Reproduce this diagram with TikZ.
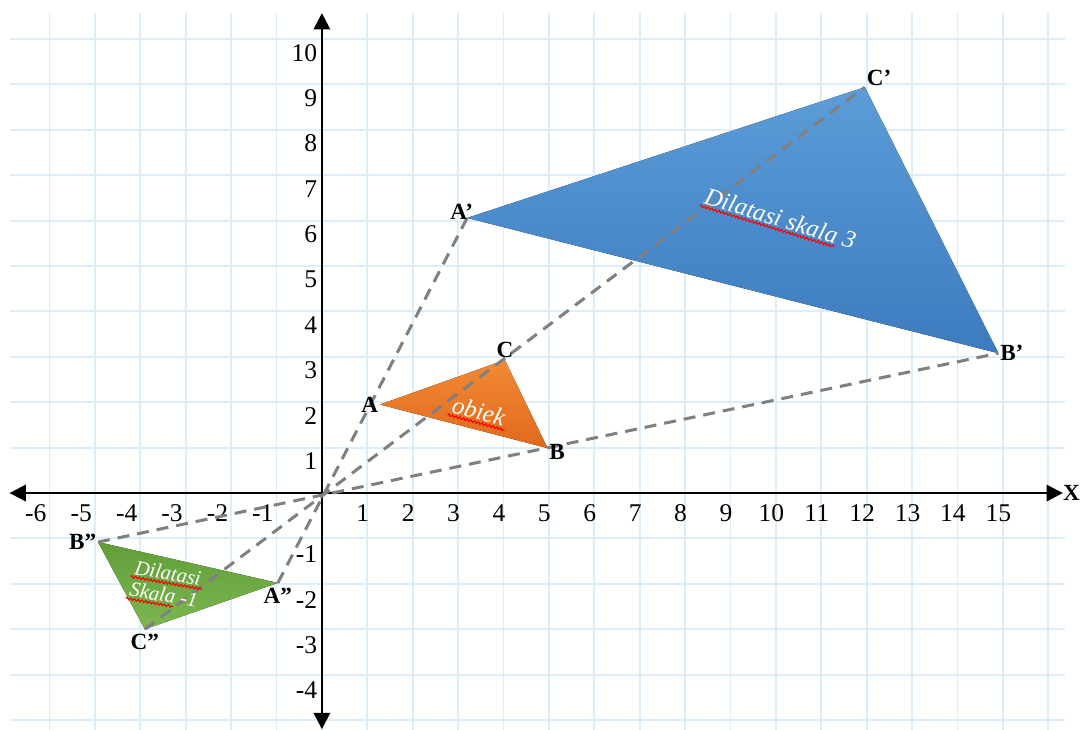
\documentclass[tikz,border=0pt]{standalone}
\usepackage{fontspec}
\setmainfont{Liberation Serif}
\usetikzlibrary{arrows.meta, positioning, calc, decorations.pathmorphing}

\definecolor{gridblue}{HTML}{DDEEFB}
\definecolor{raygray}{HTML}{808080}
\definecolor{bluetop}{HTML}{5C9CD8}
\definecolor{bluebot}{HTML}{3C7BBE}
\definecolor{orangetop}{HTML}{F28A35}
\definecolor{orangebot}{HTML}{E0691C}
\definecolor{greentop}{HTML}{609E38}
\definecolor{greenbot}{HTML}{7DB752}

\begin{document}
\begin{tikzpicture}[
  x=1cm, y=1cm,
  gridline/.style = {draw=gridblue, line width=1.2pt},
  axis/.style = {line width=1.6pt, {Triangle[length=3.6mm,width=3.6mm]}-{Triangle[length=3.6mm,width=3.6mm]}},
  tick/.style = {font=\fontsize{16}{19}\selectfont, inner sep=0pt},
  vlabel/.style = {font=\fontsize{14.5}{17}\selectfont\bfseries, inner sep=1pt},
  ray/.style = {draw=raygray, line width=1.9pt, dash pattern=on 7.5pt off 5pt},
  inner text/.style = {text=white, font=\fontsize{15.5}{18}\selectfont\itshape, inner sep=1.5pt},
  small text/.style = {inner text, font=\fontsize{13}{16}\selectfont\itshape},
  squiggle/.style = {draw=red, line width=0.7pt, decorate, decoration={snake, amplitude=0.7pt, segment length=2.4pt}}
  ]
  \useasboundingbox (-7.09,-5.2) rectangle (16.72,10.86);

  % grid
  \foreach \y in {-5,...,10} \draw[gridline] (-6.87,\y) -- (16.37,\y);
  \foreach \x in {-6,...,16} \draw[gridline] (\x,-5.3) -- (\x,10.57);

  % axes
  \coordinate (xl) at (-6.88,0);
  \coordinate (xr) at (16.32,0);
  \coordinate (yb) at (0,-5.2);
  \coordinate (yt) at (0,10.57);
  \draw[axis] (xl) -- (xr);
  \draw[axis] (yb) -- (yt);
  \node[vlabel, inner sep=0pt, right=0pt of xr] (xlab) {X};

  \foreach \x in {1,...,15} \node[tick] (tx\x) at (\x-0.1,-0.45) {\x};
  \foreach \x in {-6,...,-1} \node[tick] (tx\x) at (\x-0.3,-0.45) {\x};
  \foreach \y in {1,...,10} \node[tick, anchor=east] (ty\y) at (-0.1,\y-0.3) {\y};
  \foreach \y in {-4,...,-1} \node[tick, anchor=east] (ty\y) at (-0.1,\y-0.35) {\y};

  % vertices
  \coordinate (A) at (1.28,1.95);
  \coordinate (B) at (4.97,0.99);
  \coordinate (C) at (4.03,2.93);
  \coordinate (Ap) at (3.2,6.06);
  \coordinate (Bp) at (14.9,3.08);
  \coordinate (Cp) at (11.96,8.94);
  \coordinate (App) at (-0.97,-1.98);
  \coordinate (Bpp) at (-4.93,-1.08);
  \coordinate (Cpp) at (-3.9,-3.0);

  % triangles
  \fill[top color=bluetop, bottom color=bluebot] (Ap) -- (Bp) -- (Cp) -- cycle;
  \fill[top color=orangetop, bottom color=orangebot] (A) -- (B) -- (C) -- cycle;
  \fill[top color=greentop, bottom color=greenbot] (App) -- (Bpp) -- (Cpp) -- cycle;

  % rays through the origin
  \draw[ray] (App) -- (Ap);
  \draw[ray] (Bpp) -- (Bp);
  \draw[ray] (Cpp) -- (Cp);

  % texts inside
  \node[inner text, rotate=-17] (tblue) at (10.1,6.05) {Dilatasi skala 3};
  \draw[squiggle] (tblue.south west) -- ($(tblue.south west)!0.87!(tblue.south east)$);
  \node[inner text, rotate=-15] (torange) at (3.46,1.8) {obiek};
  \draw[squiggle] (torange.south west) -- (torange.south east);
  \node[small text, rotate=-10] (tgreen1) at (-3.39,-1.76) {Dilatasi};
  \draw[squiggle] (tgreen1.south west) -- (tgreen1.south east);
  \node[small text, rotate=-10] (tgreen2) at (-3.48,-2.24) {Skala -1};
  \draw[squiggle] (tgreen2.south west) -- ($(tgreen2.south west)!0.65!(tgreen2.south east)$);

  % vertex labels
  \node[vlabel, left=0pt of A] (labA) {A};
  \node[vlabel, right=0pt of B, yshift=-0.08cm] (labB) {B};
  \node[vlabel, above=0pt of C] (labC) {C};
  \node[vlabel, above=-2pt of Ap, xshift=-0.12cm] (labAp) {A'};
  \node[vlabel, right=0pt of Bp] (labBp) {B'};
  \node[vlabel, above right=0pt of Cp] (labCp) {C'};
  \node[vlabel, below=2pt of App] (labApp) {A''};
  \node[vlabel, left=0pt of Bpp] (labBpp) {B''};
  \node[vlabel, below=2pt of Cpp] (labCpp) {C''};
\end{tikzpicture}
\end{document}
